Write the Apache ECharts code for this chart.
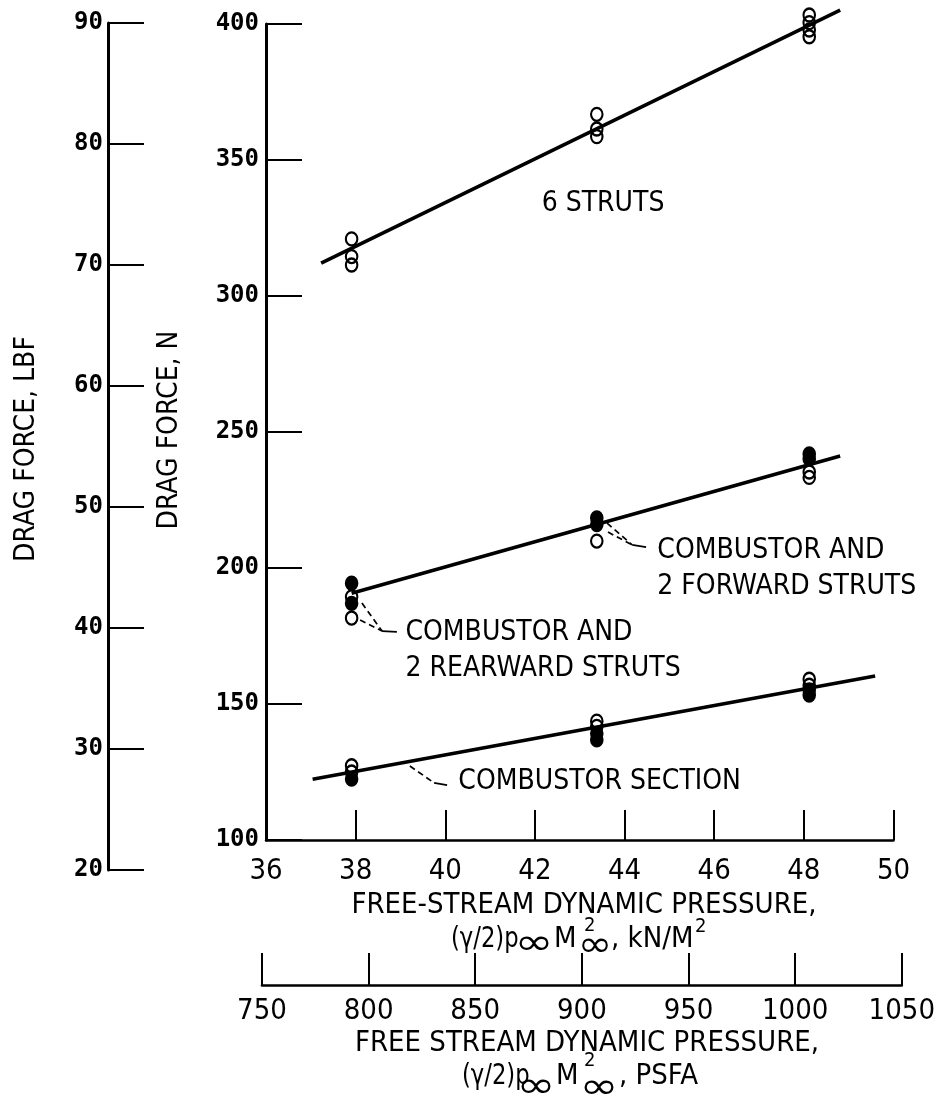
<!DOCTYPE html>
<html>
<head>
<meta charset="utf-8">
<script src="https://cdn.jsdelivr.net/npm/echarts@6/dist/echarts.min.js"></script>
<style>
html,body{margin:0;padding:0;background:#fff;}
#c{width:938px;height:1101px;}
</style>
</head>
<body>
<div id="c"></div>
<script>
// ---------- data ----------
const kNTicks = [36, 38, 40, 42, 44, 46, 48, 50];
const psfaTicks = [750, 800, 850, 900, 950, 1000, 1050];
const nTicks = [100, 150, 200, 250, 300, 350, 400];
const lbfTicks = [20, 30, 40, 50, 60, 70, 80, 90];

// 6 struts (open symbols)
const sixOpen = [[37.91,321.0],[37.91,314.5],[37.91,311.4],
                 [43.38,366.8],[43.38,361.4],[43.38,358.6],
                 [48.12,403.3],[48.12,400.5],[48.12,397.8],[48.12,395.3]];
// combustor + 2 struts (forward / rearward)
const midFilled = [[37.91,194.4],[37.91,187.0],[43.38,218.4],[43.38,216.0],[48.12,241.9],[48.12,240.1]];
const midOpen   = [[37.91,189.4],[37.91,181.6],[43.38,209.9],[48.12,235.3],[48.12,233.3]];
// combustor section
const secOpen   = [[37.91,127.3],[37.91,125.0],[43.38,143.7],[43.38,141.8],[48.12,159.1],[48.12,156.9]];
const secFilled = [[37.91,122.4],[43.38,139.2],[43.38,136.8],[48.12,155.2],[48.12,153.3]];

// faired lines
const sixFit = [[37.23,312.1],[48.81,405.1]];
const midFit = [[37.91,190.7],[48.81,241.2]];
const secFit = [[37.04,122.3],[49.59,160.3]];

// annotation labels and leaders
const annotations = [
  {name:'6 STRUTS', value:[42.14,333.8]},
  {name:'COMBUSTOR AND\n2 FORWARD STRUTS', value:[44.72,199.8]},
  {name:'COMBUSTOR AND\n2 REARWARD STRUTS', value:[39.10,169.7]},
  {name:'COMBUSTOR SECTION', value:[40.28,121.3]}
];
const leadersDashed = [
  [[39.21,127.2],[39.75,121.0]],
  [[38.14,187.1],[38.59,176.8]],
  [[38.10,180.9],[38.59,176.8]],
  [[43.61,216.5],[44.17,208.5]],
  [[43.63,213.2],[44.17,208.5]]
];
const leadersSolid = [
  [[39.75,121.0],[40.04,120.2]],
  [[38.59,176.8],[38.92,176.5]],
  [[44.17,208.5],[44.48,207.7]]
];

const N_PER_LBF = 4.44822;
const KN_PER_PSF = 0.04788;

// ---------- layout ----------
const G = {left:266, top:24, width:627.5, height:816};
const pxPerKN = G.width / (kNTicks[kNTicks.length-1]-kNTicks[0]);
const pxPerN = G.height / (nTicks[nTicks.length-1]-nTicks[0]);
const xOfKN = v => G.left + (v - kNTicks[0]) * pxPerKN;
const yOfN = v => G.top + (nTicks[nTicks.length-1] - v) * pxPerN;

const psfL = xOfKN(psfaTicks[0]*KN_PER_PSF), psfR = xOfKN(psfaTicks[psfaTicks.length-1]*KN_PER_PSF);
const lbfT = yOfN(lbfTicks[lbfTicks.length-1]*N_PER_LBF), lbfB = yOfN(lbfTicks[0]*N_PER_LBF);

const NARROW = "'Liberation Sans Narrow','DejaVu Sans Condensed',sans-serif";
const MONO = "'DejaVu Sans Mono',monospace";
const BLK = '#000';

const chart = echarts.init(document.getElementById('c'), null, {renderer:'canvas'});

const openStyle = {color:'rgba(0,0,0,0)', borderColor:BLK, borderWidth:2.2, opacity:1};
const filledStyle = {color:BLK, borderColor:BLK, borderWidth:2.2, opacity:1};
const SYM = [11.5,13];

const series = [];
function fitLine(d){
  return {type:'line', xAxisIndex:0, yAxisIndex:0, data:d, symbol:'none', clip:false,
          lineStyle:{color:BLK, width:3.6}, silent:true, z:2, animation:false};
}
series.push(fitLine(sixFit), fitLine(midFit), fitLine(secFit));
leadersDashed.forEach(d=>series.push({type:'line', data:d, symbol:'none', clip:false,
  lineStyle:{color:BLK, width:1.7, type:[6,4]}, silent:true, z:2, animation:false}));
leadersSolid.forEach(d=>series.push({type:'line', data:d, symbol:'none', clip:false,
  lineStyle:{color:BLK, width:1.7}, silent:true, z:2, animation:false}));
[sixOpen, midOpen, secOpen].forEach(d=>series.push({type:'scatter', data:d, symbol:'circle',
  symbolSize:SYM, itemStyle:openStyle, clip:false, z:3, animation:false}));
[midFilled, secFilled].forEach(d=>series.push({type:'scatter', data:d, symbol:'circle',
  symbolSize:SYM, itemStyle:filledStyle, clip:false, z:4, animation:false}));
series.push({type:'scatter', data:annotations, symbol:'circle', symbolSize:1,
  itemStyle:{color:'rgba(0,0,0,0)', borderWidth:0, opacity:1}, clip:false, silent:true,
  label:{show:true, position:'right', distance:0, formatter:'{b}', color:BLK, opacity:1,
         fontFamily:NARROW, fontSize:28, lineHeight:36}, z:5, animation:false});

const axisCommon = {
  axisLine:{show:true, lineStyle:{color:BLK, width:2.5}},
  axisTick:{show:true, inside:true, lineStyle:{color:BLK, width:2}},
  splitLine:{show:false}
};

function txt(text, x, y, size, opts){
  opts = opts || {};
  return {type:'text', x:x, y:y, rotation:opts.rot||0, scaleX:opts.sx||1, silent:true,
    style:{text:text, x:0, y:0, fill:BLK, font:(size+'px '+(opts.font||NARROW)),
           align:opts.align||'left', textAlign:opts.align||'left',
           verticalAlign:'middle', textVerticalAlign:'middle'}};
}
const INF = "'DejaVu Sans',sans-serif";
const graphics = [
  txt('DRAG FORCE, LBF', 27, 449, 28, {rot:Math.PI/2, align:'center'}),
  txt('DRAG FORCE, N', 170, 430, 28, {rot:Math.PI/2, align:'center'}),
  txt('FREE-STREAM DYNAMIC PRESSURE,', 584, 905, 29, {align:'center'}),
  txt('(γ/2)p', 451, 939, 29, {sx:0.87}),
  txt('∞', 534, 945, 36, {font:INF, sx:1.3, align:'center'}),
  txt('M', 554, 939, 29),
  txt('2', 584, 926, 20),
  txt('∞', 595, 947, 36, {font:INF, sx:1.15, align:'center'}),
  txt(', kN/M', 611, 939, 29),
  txt('2', 695, 927, 20),
  txt('FREE STREAM DYNAMIC PRESSURE,', 587, 1043, 29, {align:'center'}),
  txt('(γ/2)p', 462, 1076, 29, {sx:0.87}),
  txt('∞', 536, 1088, 36, {font:INF, sx:1.3, align:'center'}),
  txt('M', 556, 1076, 29),
  txt('2', 584, 1061, 20),
  txt('∞', 599, 1089, 36, {font:INF, sx:1.3, align:'center'}),
  txt(', PSFA', 619, 1076, 29)
];

const plain = v => String(v);

chart.setOption({
  animation:false,
  backgroundColor:'#fff',
  grid:[
    {left:G.left, top:G.top, width:G.width, height:G.height},
    {left:psfL, top:900, width:psfR-psfL, height:85},
    {left:108, top:lbfT, width:34, height:lbfB-lbfT}
  ],
  xAxis:[
    Object.assign({}, axisCommon, {gridIndex:0, type:'value', min:kNTicks[0], max:kNTicks[kNTicks.length-1],
      interval:kNTicks[1]-kNTicks[0],
      axisTick:{show:true, inside:true, length:30, lineStyle:{color:BLK, width:2}},
      axisLabel:{color:BLK, fontFamily:NARROW, fontSize:29, margin:17, formatter:plain}}),
    Object.assign({}, axisCommon, {gridIndex:1, type:'value', min:psfaTicks[0], max:psfaTicks[psfaTicks.length-1],
      interval:psfaTicks[1]-psfaTicks[0],
      axisTick:{show:true, inside:true, length:32, lineStyle:{color:BLK, width:2}},
      axisLabel:{color:BLK, fontFamily:NARROW, fontSize:29, margin:12, formatter:plain}}),
    {gridIndex:2, type:'value', show:false}
  ],
  yAxis:[
    Object.assign({}, axisCommon, {gridIndex:0, type:'value', min:nTicks[0], max:nTicks[nTicks.length-1],
      interval:nTicks[1]-nTicks[0],
      axisLine:{show:true, lineStyle:{color:BLK, width:3}},
      axisTick:{show:true, inside:true, length:36, lineStyle:{color:BLK, width:2}},
      axisLabel:{color:BLK, fontFamily:MONO, fontWeight:'bold', fontSize:24, margin:7, formatter:plain}}),
    {gridIndex:1, type:'value', show:false},
    Object.assign({}, axisCommon, {gridIndex:2, type:'value', min:lbfTicks[0], max:lbfTicks[lbfTicks.length-1],
      interval:lbfTicks[1]-lbfTicks[0],
      axisLine:{show:true, lineStyle:{color:BLK, width:3}},
      axisTick:{show:true, inside:true, length:36, lineStyle:{color:BLK, width:2}},
      axisLabel:{color:BLK, fontFamily:MONO, fontWeight:'bold', fontSize:24, margin:5, formatter:plain}})
  ],
  series:series,
  graphic:graphics
});
</script>
</body>
</html>
